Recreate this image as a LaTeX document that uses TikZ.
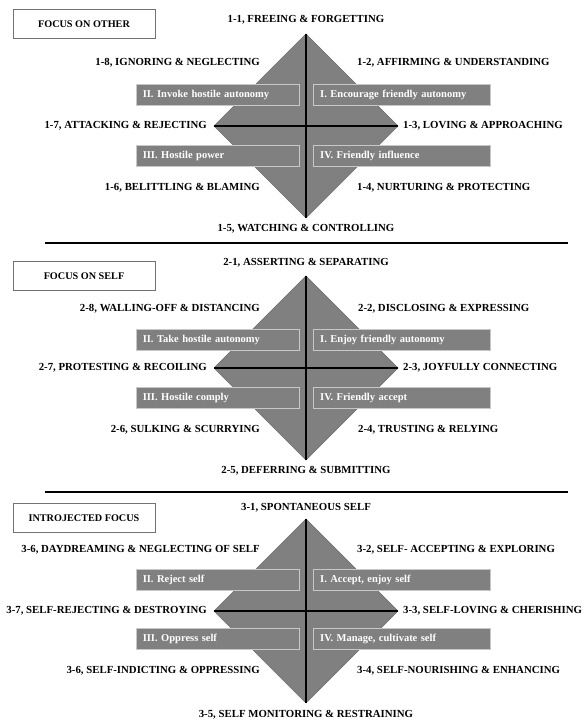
\documentclass[tikz,border=0pt]{standalone}
\usepackage{fontspec}
\setmainfont{Liberation Serif}
\usetikzlibrary{shapes.geometric}

\definecolor{quadgray}{RGB}{128,128,128}
\definecolor{rimgray}{RGB}{200,200,200}

\begin{document}
\begin{tikzpicture}[
  x = 1pt, y = 1pt,
  kite/.style     = {diamond, fill=quadgray, draw=quadgray!85!black, thin,
                     minimum width=184pt, minimum height=184pt,
                     inner sep=0pt, outer sep=0pt},
  cross/.style    = {draw, line width=1.4pt},
  quadbox/.style  = {draw=rimgray, fill=quadgray, text=white, thin,
                     minimum height=21pt, inner xsep=7pt, align=left,
                     font=\bfseries\fontsize{10.5}{12}\selectfont},
  focusbox/.style = {draw=black!55, line width=0.9pt, minimum width=142pt,
                     minimum height=29pt, font=\bfseries\fontsize{10.2}{12}\selectfont},
  beh/.style      = {inner sep=0pt, font=\bfseries\fontsize{10.8}{12}\selectfont},
  rule/.style     = {draw, line width=2pt},
]

\useasboundingbox (0,0) rectangle (584,721);

% separators
\draw[rule] (45,478) -- (568,478);
\draw[rule] (45,229) -- (568,229);

% focus on other
\begin{scope}[yshift=595pt]
  \node[kite] (d1) at (306,0) {};
  \node[quadbox, text width=149pt, anchor=east] (q1-2) at (299,31) {II. Invoke hostile autonomy};
  \node[quadbox, text width=163pt, anchor=west] (q1-1) at (313,31) {I. Encourage friendly autonomy};
  \node[quadbox, text width=149pt, anchor=east] (q1-3) at (299,-30) {III. Hostile power};
  \node[quadbox, text width=163pt, anchor=west] (q1-4) at (313,-30) {IV. Friendly influence};
  \draw[cross] (d1.west) -- (d1.east);
  \draw[cross] (d1.north) -- (d1.south);
  \node[focusbox] (f1) at (84,102) {FOCUS ON OTHER};
  \foreach \x/\y/\a/\label [count=\i] in {%
      306/106/center/{1-1, FREEING \& FORGETTING},
      357/63/west/{1-2, AFFIRMING \& UNDERSTANDING},
      403/0/west/{1-3, LOVING \& APPROACHING},
      357/-62/west/{1-4, NURTURING \& PROTECTING},
      306/-103/center/{1-5, WATCHING \& CONTROLLING},
      260/-62/east/{1-6, BELITTLING \& BLAMING},
      207/0/east/{1-7, ATTACKING \& REJECTING},
      260/63/east/{1-8, IGNORING \& NEGLECTING}%
    }{%
      \node[beh, anchor=\a] (b1-\i) at (\x,\y) {\label};
    }
\end{scope}

% focus on self
\begin{scope}[yshift=353pt]
  \node[kite] (d2) at (306,0) {};
  \node[quadbox, text width=149pt, anchor=east] (q2-2) at (299,28) {II. Take hostile autonomy};
  \node[quadbox, text width=163pt, anchor=west] (q2-1) at (313,28) {I. Enjoy friendly autonomy};
  \node[quadbox, text width=149pt, anchor=east] (q2-3) at (299,-30) {III. Hostile comply};
  \node[quadbox, text width=163pt, anchor=west] (q2-4) at (313,-30) {IV. Friendly accept};
  \draw[cross] (d2.west) -- (d2.east);
  \draw[cross] (d2.north) -- (d2.south);
  \node[focusbox] (f2) at (84,92) {FOCUS ON SELF};
  \foreach \x/\y/\a/\label [count=\i] in {%
      306/105/center/{2-1, ASSERTING \& SEPARATING},
      358/59/west/{2-2, DISCLOSING \& EXPRESSING},
      403/0/west/{2-3, JOYFULLY CONNECTING},
      358/-62/west/{2-4, TRUSTING \& RELYING},
      306/-103/center/{2-5, DEFERRING \& SUBMITTING},
      260/-62/east/{2-6, SULKING \& SCURRYING},
      207/0/east/{2-7, PROTESTING \& RECOILING},
      260/59/east/{2-8, WALLING-OFF \& DISTANCING}%
    }{%
      \node[beh, anchor=\a] (b2-\i) at (\x,\y) {\label};
    }
\end{scope}

% introjected focus
\begin{scope}[yshift=110pt]
  \node[kite] (d3) at (306,0) {};
  \node[quadbox, text width=149pt, anchor=east] (q3-2) at (299,31) {II. Reject self};
  \node[quadbox, text width=163pt, anchor=west] (q3-1) at (313,31) {I. Accept, enjoy self};
  \node[quadbox, text width=149pt, anchor=east] (q3-3) at (299,-28) {III. Oppress self};
  \node[quadbox, text width=163pt, anchor=west] (q3-4) at (313,-28) {IV. Manage, cultivate self};
  \draw[cross] (d3.west) -- (d3.east);
  \draw[cross] (d3.north) -- (d3.south);
  \node[focusbox] (f3) at (84,93) {INTROJECTED FOCUS};
  \foreach \x/\y/\a/\label [count=\i] in {%
      306/103/center/{3-1, SPONTANEOUS SELF},
      357/61/west/{3-2, SELF- ACCEPTING \& EXPLORING},
      403/0/west/{3-3, SELF-LOVING \& CHERISHING},
      357/-60/west/{3-4, SELF-NOURISHING \& ENHANCING},
      306/-104/center/{3-5, SELF MONITORING \& RESTRAINING},
      260/-60/east/{3-6, SELF-INDICTING \& OPPRESSING},
      207/0/east/{3-7, SELF-REJECTING \& DESTROYING},
      260/61/east/{3-6, DAYDREAMING \& NEGLECTING OF SELF}%
    }{%
      \node[beh, anchor=\a] (b3-\i) at (\x,\y) {\label};
    }
\end{scope}

\end{tikzpicture}
\end{document}
